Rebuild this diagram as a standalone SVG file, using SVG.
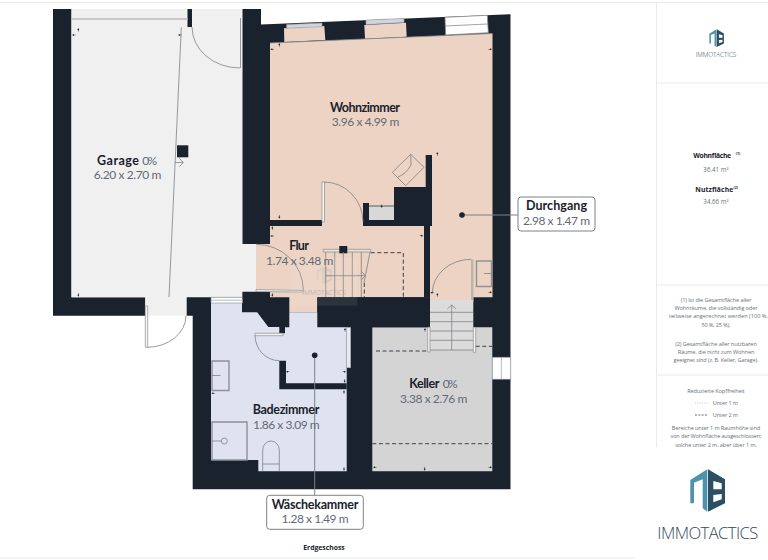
<svg xmlns="http://www.w3.org/2000/svg" width="768" height="560" viewBox="0 0 768 560">
<style>
text{font-family:"Lato","Liberation Sans",sans-serif;text-anchor:middle}
.n{font-size:12.5px;font-weight:700;fill:#1a222d}
.d{font-size:12px;fill:#626a75}
.s{font-family:"Open Sans","Liberation Sans",sans-serif;font-size:5.6px;fill:#6a7179}
.b{font-family:"Open Sans","Liberation Sans",sans-serif;font-size:6.8px;font-weight:700;fill:#1a222d}
.v{font-family:"Open Sans","Liberation Sans",sans-serif;font-size:6.2px;fill:#6a7179}
.o{font-family:"Open Sans","Liberation Sans",sans-serif}
.w{fill:#1a222d}
.l{fill:none;stroke:#7d8187;stroke-width:.8}
.j{fill:#f7f5f3;stroke:#8b8d90;stroke-width:.7}
.f{fill:none;stroke:#8f9296;stroke-width:1.4}
.da{fill:none;stroke:#3a424d;stroke-width:1;stroke-dasharray:4 2.6}
.g{fill:none;stroke:#e9eaeb;stroke-width:1}
.box{fill:#fff;stroke:#7d8187;stroke-width:1}
.logoT{font-weight:300;fill:#2f4a5e}
</style>
<defs>
<path id="mL" class="w" d="M-2,0 L0,-1 V-.3 H1.5 V.3 H0 V1 Z"/>
<path id="mR" class="w" d="M2,0 L0,-1 V-.3 H-1.5 V.3 H0 V1 Z"/>
<path id="mU" class="w" d="M0,-2 L1,0 H.3 V1.5 H-.3 V0 H-1 Z"/>
<path id="mD" class="w" d="M0,2 L1,0 H.3 V-1.5 H-.3 V0 H-1 Z"/>
<g id="logo">
<path fill="#4f93a8" d="M0.3,10.7 17.3,0 17.3,42.4 12.7,39 12.7,10 4,13.4 4,34 0.3,34Z"/>
<path fill="#2c4f66" fill-rule="evenodd" d="M18,0 35,10 35,34 18,42.4Z M23.3,11.7 31.7,14 31.7,20 23.3,20Z M23.3,25.7 31.7,24.7 31.7,30 23.3,33Z"/>
</g>
</defs>
<rect width="768" height="560" fill="#fff"/>
<g id="frame">
<path class="g" d="M0,2.5H768 M0,558H635 M656.5,2.5V447 M656.5,83H768 M656.5,285H768 M656.5,375H768"/>
</g>
<g id="floors">
<path class="w" d="M53,9H71.5V297.3H145.3V315.7H53Z"/>
<path fill="#f0f0f0" d="M71.5,9H242.5V297.3H186.7V315.7H145.3V297.3H71.5Z"/>
<rect class="w" x="187.5" y="9" width="4.5" height="18"/>
<path class="w" d="M242.5,9H261V24.4L510.5,14.2V489.3H192.7V315.7H186.7V297.3H242.5Z"/>
<path fill="#ecd3c3" d="M270,43 492.5,33.5V297.3H270Z"/>
<path fill="#f0f0f0" d="M242,244H256V292H242Z"/>
<path fill="#ecd3c3" d="M256,244H270V297.3H256Z"/>
<path fill="#ecd3c3" d="M270,297H317.3V312.3H270Z"/>
<path fill="#dee3ef" d="M211,303H242V312.3H346.7V471.3H258.3V460H211Z"/>
<path fill="#d4d4d4" d="M372.3,327.3H492.3V471.3H372.3Z"/>
<path fill="#ecd3c3" d="M430,297H473.3V302H430Z"/>
<path fill="#dcdcdc" d="M430,300H473.3V350H430Z"/>
<path fill="#ecd3c3" d="M284,28.2 324.3,26 325.3,40 284.3,42Z M364.3,25 406,22.7 406.7,36.7 365,38.7Z"/>
<path fill="#fff" stroke="#8b8d90" stroke-width=".8" d="M445,17.3 487.3,15.3 488.3,32.7 445.7,35Z M445,26 487.7,24"/>
<path fill="#fff" stroke="#8b8d90" stroke-width=".6" d="M492.3,357.3H510.7V379.3H492.3Z M501.3,357.3V379.3"/>
<path fill="#fff" stroke="#8b8d90" stroke-width=".6" d="M211,297.3H242.5V303H211Z M211,300.2H242.5"/>
<path fill="#d0d6df" stroke="#9a9ea3" stroke-width=".6" d="M286.7,24.5 322,23V26.7L286.7,28.2Z M366,20 404,18.5V22.6L366,24.6Z"/>
<path fill="none" stroke="#8b8d90" stroke-width=".8" d="M270,43 492.5,33.5"/>
<rect x="71.5" y="18" width="116" height="2" fill="#c9c9c9"/>
</g>
<g id="walls">
<path class="w" d="M270,220H322V226H270Z M363,203H369V220H394V187H425.7V155H432V226H430V297.3H424V226H363Z"/>
<path class="w" d="M242.7,291.7H270V297.3H289.3V327.3H285V333.3H279.3V327H268.3L253.3,307 242.7,299Z"/>
<path class="w" d="M317.3,297.3H430V327.3H317.3Z"/>
<path class="w" d="M279.3,360.7H286V383.3H346.7V389.3H279.3Z"/>
<rect x="369" y="205" width="25" height="15" fill="#d8d8d8"/>
<path fill="#9a9a9a" d="M369,205H394V207H369Z"/>
<rect x="346.7" y="327.3" width="4" height="40.5" fill="#e8ebf2" stroke="#9a9ea3" stroke-width=".5"/>
</g>
<g id="fixtures">
<path class="l" d="M192,27A48,41 0 0 0 240,68 M324,182A39,40 0 0 1 363,222 M256,244.3A47.3,45.7 0 0 1 303.3,290 M471,259.3A38.7,34 0 0 0 432.3,293.3 M147,347.3A39,31.6 0 0 0 186,315.7 M255,335A24.3,25.7 0 0 0 279.3,360.7"/>
<path class="l" d="M240.5,18V68"/>
<path class="j" d="M322,182H324.5V222H322Z M256,289.5 303.3,290.5V292L256,291.5Z M145.3,306H147.7V347.3H145.3Z M255,333.3 283,333.3V335.7H255Z"/>
<rect x="471" y="259.3" width="2.4" height="40.7" fill="#bdb3ab"/>
<path class="f" d="M476.5,261H491.5V286.5H476.5Z M212,361H229V390.5H212Z M212,422H247V460H212Z"/>
<path class="l" d="M491.5,273.5H484 M212,375.5H220.5 M212,441H221.3"/>
<circle class="l" cx="224.3" cy="441" r="3"/>
<path class="l" d="M262.7,471V450A8.3,9 0 0 1 279.3,450V471 M262.7,464H279.3"/>
<path class="l" d="M410.7,154.3 424,167.3 405.7,185.7 392.3,172.3Z M410.7,154.3 411,165Q406,174 398,177"/>
<path class="l" d="M181.3,27.3 169,297"/>
<rect class="w" x="177" y="145.3" width="11.3" height="12"/>
<path class="l" d="M175,162.5H183.3 M179.3,158.3 183.3,162.5 179.3,166.7"/>
<path fill="#eadfd6" stroke="#8b8d90" stroke-width=".7" d="M323.3,249.3H370.7V252H323.3Z"/>
<rect class="w" x="339.3" y="246" width="8" height="7.3"/>
<path class="l" d="M325.7,252V297 M334.7,252V297 M343.3,252V297 M352.3,252V297 M361.3,252V297 M370,252 364,283 M325.7,275.7H365.3 M361.5,271.5 365.3,275.7 361.5,279.9"/>
<path class="da" d="M370.7,252.7H403.3V296.7"/>
<path class="da" stroke-dasharray="2 1.6" d="M364.3,283V297"/>
<path class="l" d="M430,312.3H473.3 M430,321.7H473.3 M430,331H473.3 M430,340.3H473.3 M430,350H473.3"/>
<path class="l" d="M451.7,305V350 M447.3,309 451.7,305 456,309"/>
<path class="j" d="M427.7,327.3H430V352H427.7Z M473.3,327.3H475.7V352.3H473.3Z"/>
<path class="da" d="M376,351H427.7 M475.7,346.3H492.3 M372.3,443.7H492.3"/>
</g>
<g id="marks">
<use href="#mL" x="74" y="35"/><use href="#mU" x="78.3" y="30"/><use href="#mL" x="180" y="35"/>
<use href="#mL" x="272.3" y="49.3"/><use href="#mU" x="279.3" y="45"/><use href="#mR" x="490" y="49.3"/><use href="#mU" x="437.3" y="154"/>
<use href="#mD" x="279.3" y="216.7"/><use href="#mU" x="272.3" y="228.3"/><use href="#mL" x="272.3" y="236"/><use href="#mR" x="421.3" y="235.7"/><use href="#mD" x="272.3" y="294.7"/><use href="#mD" x="381.7" y="206"/><use href="#mL" x="432.3" y="292.7"/><use href="#mU" x="437.3" y="295"/><use href="#mR" x="490" y="292.3"/>
<use href="#mD" x="78.3" y="294.7"/><use href="#mU" x="345" y="330"/><use href="#mL" x="288" y="371.7"/><use href="#mR" x="344" y="371.7"/><use href="#mD" x="344.7" y="380.7"/><use href="#mU" x="344" y="392.3"/><use href="#mL" x="213.3" y="393.3"/><use href="#mD" x="344" y="468.7"/>
<use href="#mU" x="425" y="330"/><use href="#mL" x="375" y="467.3"/><use href="#mD" x="424.7" y="468.7"/><use href="#mR" x="490" y="467.3"/>
</g>
<g id="connectors">
<path stroke="#7d8187" stroke-width="1" fill="none" d="M462,215H518 M314.7,355.3V495.3"/>
<circle class="w" cx="462" cy="215" r="2.8"/>
<circle class="w" cx="314.7" cy="355.3" r="2.8"/>
</g>
<g id="watermark">
<rect x="291" y="256.7" width="66.3" height="49" fill="#fff" opacity=".08"/>
<use href="#logo" transform="translate(316.7,266) scale(.43)" opacity=".1"/>
<text x="324" y="295" font-size="6.5" fill="#a8a29c" opacity=".6" class="o">IMMOTACTICS</text>
</g>
<g id="room-garage"><text x="118" y="164.5" class="n" textLength="42">Garage</text><text x="149.7" y="164.5" class="d" textLength="15">0%</text><text x="127.5" y="178.5" class="d" textLength="67.5">6.20 x 2.70 m</text></g>
<g id="room-wohnzimmer"><text x="365" y="111.7" class="n" textLength="70">Wohnzimmer</text><text x="365.5" y="126" class="d" textLength="67.6">3.96 x 4.99 m</text></g>
<g id="room-flur"><text x="299" y="250" class="n" textLength="19.7">Flur</text><text x="299.7" y="265" class="d" textLength="67.3">1.74 x 3.48 m</text></g>
<g id="room-badezimmer"><text x="286" y="414.3" class="n" textLength="66.6">Badezimmer</text><text x="286.3" y="429" class="d" textLength="66.7">1.86 x 3.09 m</text></g>
<g id="room-keller"><text x="424.3" y="388.3" class="n" textLength="30">Keller</text><text x="450.2" y="388.3" class="d" textLength="15">0%</text><text x="433.7" y="402.7" class="d" textLength="67.3">3.38 x 2.76 m</text></g>
<g id="label-durchgang"><rect class="box" x="518" y="197" width="77" height="34" rx="3"/><text x="556.5" y="210" class="n" textLength="61">Durchgang</text><text x="556.5" y="224.5" class="d" textLength="67">2.98 x 1.47 m</text></g>
<g id="label-waeschekammer"><rect class="box" x="266.7" y="495.3" width="96.6" height="34" rx="3"/><text x="315" y="508.7" class="n" textLength="86.7">Wäschekammer</text><text x="315" y="523.2" class="d" textLength="67">1.28 x 1.49 m</text></g>
<text x="324" y="549.5" class="b">Erdgeschoss</text>
<g id="sidebar">
<use href="#logo" transform="translate(709.2,29.3) scale(.42)"/>
<text x="716" y="57" class="logoT o" font-size="6.5" textLength="40.7">IMMOTACTICS</text>
<text x="712.2" y="158" class="b" textLength="37.7">Wohnfläche</text><text x="738" y="155" class="b" style="font-size:3.6px">(1)</text>
<text x="716" y="171.7" class="v">36.41 m²</text>
<text x="714.3" y="191.7" class="b" textLength="38">Nutzfläche</text><text x="735.7" y="189" class="b" style="font-size:3.6px">(2)</text>
<text x="716" y="204" class="v">34.66 m²</text>
<text x="716" y="302" class="s" textLength="70.7">(1) Ist die Gesamtfläche aller</text>
<text x="716" y="310" class="s" textLength="83">Wohnräume, die vollständig oder</text>
<text x="718.4" y="318.3" class="s" textLength="99">teilweise angerechnet werden (100 %,</text>
<text x="716" y="326.5" class="s" textLength="29">50 %, 25 %).</text>
<text x="716" y="345.8" class="s" textLength="81.7">(2) Gesamtfläche aller nutzbaren</text>
<text x="716" y="353.8" class="s" textLength="76.7">Räume, die nicht zum Wohnen</text>
<text x="716" y="362" class="s" textLength="85">geeignet sind (z. B. Keller, Garage).</text>
<text x="716" y="392.5" class="s" textLength="57.7">Reduzierte Kopffreiheit</text>
<path stroke="#b9bcc0" stroke-width=".7" stroke-dasharray="1 .8" d="M695,403H708.3"/>
<text x="725.4" y="405" class="s" textLength="25.3">Unter 1 m</text>
<path stroke="#3a424d" stroke-width=".8" stroke-dasharray="2 1.3" d="M695,415H708.3"/>
<text x="725.4" y="417" class="s" textLength="25.3">Unter 2 m</text>
<text x="716" y="429.5" class="s" textLength="88.3">Bereiche unter 1 m Raumhöhe sind</text>
<text x="716" y="438" class="s" textLength="91">von der Wohnfläche ausgeschlossen;</text>
<text x="716" y="446.5" class="s" textLength="81.7">solche unter 2 m, aber über 1 m,</text>
<use href="#logo" transform="translate(690,469.3)"/>
<text x="707.8" y="539.3" class="logoT o" font-size="16.6" textLength="101">IMMOTACTICS</text>
</g>
</svg>
